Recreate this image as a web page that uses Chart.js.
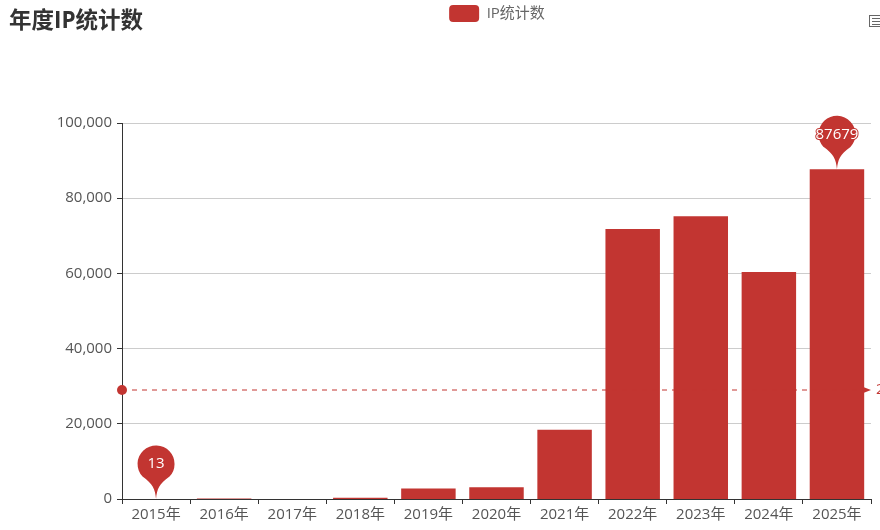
<!DOCTYPE html>
<html>
<head>
<meta charset="utf-8">
<style>
  html, body { margin: 0; padding: 0; background: #fff; overflow: hidden; }
  #wrap { width: 880px; height: 530px; }
</style>
<script src="https://cdn.jsdelivr.net/npm/chart.js@4"></script>
</head>
<body>
<div id="wrap"><canvas id="chart" width="880" height="530"></canvas></div>
<script>
const categories = ["2015年", "2016年", "2017年", "2018年", "2019年", "2020年", "2021年", "2022年", "2023年", "2024年", "2025年"];
const ipCounts = [13, 150, 20, 300, 2800, 3100, 18400, 71800, 75200, 60400, 87679];
const meanValue = 29074;
const minIndex = 0;
const maxIndex = 10;

const RED = "#c23531";
const FONT = '"Open Sans", "Noto Sans CJK SC", sans-serif';

function drawPin(ctx, x, tipY, label) {
  const r = 18.5;
  const cy = tipY - 35;
  ctx.save();
  ctx.fillStyle = RED;
  ctx.beginPath();
  ctx.moveTo(x, tipY);
  ctx.bezierCurveTo(x - 1, tipY - 10, x - 3, tipY - 15, x - r * 0.75, cy + r * 0.66);
  ctx.arc(x, cy, r, Math.PI * 0.76, Math.PI * 0.24);
  ctx.bezierCurveTo(x + 3, tipY - 15, x + 1, tipY - 10, x, tipY);
  ctx.closePath();
  ctx.fill();
  ctx.font = "15px " + FONT;
  ctx.textAlign = "center";
  ctx.textBaseline = "middle";
  ctx.lineWidth = 2;
  ctx.strokeStyle = RED;
  ctx.strokeText(label, x, cy);
  ctx.fillStyle = "#fff";
  ctx.fillText(label, x, cy);
  ctx.restore();
}

const markPlugin = {
  id: "marks",
  afterLayout(chart) {
    // legend sits to the right of centre and level with the title
    const lg = chart.legend;
    const h = lg.bottom - lg.top;
    lg.left += 57;
    lg.right += 57;
    lg.top = 2;
    lg.bottom = h + 2;
  },
  afterDatasetsDraw(chart) {
    const { ctx, scales, chartArea } = chart;
    const yMean = Math.round(scales.y.getPixelForValue(meanValue));
    ctx.save();
    // mean line
    ctx.strokeStyle = RED;
    ctx.lineWidth = 1;
    ctx.setLineDash([5, 5]);
    ctx.beginPath();
    ctx.moveTo(chartArea.left + 10, yMean);
    ctx.lineTo(chartArea.right - 8, yMean);
    ctx.stroke();
    ctx.setLineDash([]);
    ctx.fillStyle = RED;
    ctx.beginPath();
    ctx.arc(chartArea.left, yMean, 5, 0, Math.PI * 2);
    ctx.fill();
    ctx.beginPath();
    ctx.moveTo(chartArea.right, yMean);
    ctx.lineTo(chartArea.right - 9, yMean - 3.5);
    ctx.lineTo(chartArea.right - 7, yMean);
    ctx.lineTo(chartArea.right - 9, yMean + 3.5);
    ctx.closePath();
    ctx.fill();
    ctx.font = "15px " + FONT;
    ctx.textAlign = "left";
    ctx.textBaseline = "middle";
    ctx.fillText(String(meanValue), chartArea.right + 5, yMean);
    ctx.restore();

    // min / max pins
    [minIndex, maxIndex].forEach((i) => {
      drawPin(ctx, scales.x.getPixelForValue(i), scales.y.getPixelForValue(ipCounts[i]), String(ipCounts[i]));
    });

    // toolbox icon, cut by the right edge
    ctx.save();
    ctx.strokeStyle = "#666";
    ctx.lineWidth = 1;
    ctx.strokeRect(869.5, 15.5, 14, 11);
    ctx.beginPath();
    ctx.moveTo(872, 18.5); ctx.lineTo(880, 18.5);
    ctx.moveTo(872, 21.5); ctx.lineTo(880, 21.5);
    ctx.moveTo(872, 24.5); ctx.lineTo(880, 24.5);
    ctx.stroke();
    ctx.restore();
  },
};

new Chart(document.getElementById("chart"), {
  type: "bar",
  data: {
    labels: categories,
    datasets: [
      {
        label: "IP统计数",
        data: ipCounts,
        backgroundColor: RED,
        barPercentage: 0.8,
        categoryPercentage: 1,
        inflateAmount: 0,
      },
    ],
  },
  options: {
    responsive: false,
    animation: false,
    layout: { padding: { left: 9, right: 9, top: 0, bottom: 0 } },
    plugins: {
      tooltip: { enabled: false },
      title: {
        display: true,
        text: "年度IP统计数",
        align: "start",
        color: "#333",
        font: { family: FONT, size: 22.5, weight: "bold" },
        padding: { top: 8, bottom: 58 },
      },
      legend: {
        position: "top",
        labels: {
          boxWidth: 30,
          boxHeight: 17,
          useBorderRadius: true,
          borderRadius: 4,
          padding: 3,
          color: "#666",
          font: { family: FONT, size: 15 },
        },
      },
    },
    scales: {
      x: {
        afterFit: (s) => { s.height = 31; },
        border: { color: "#333" },
        grid: { drawOnChartArea: false, drawTicks: true, tickLength: 5, tickColor: "#333" },
        ticks: { color: "#555", font: { family: FONT, size: 15 }, padding: 2, maxRotation: 0, autoSkip: false },
      },
      y: {
        min: 0,
        max: 100000,
        afterFit: (s) => { s.width = 113; },
        border: { color: "#333" },
        grid: {
          color: "#ccc",
          tickColor: "#333",
          tickWidth: 1,
          tickLength: 5,
          // near-zero width at 0 so bars start on the axis, not half a pixel above it
          lineWidth: (c) => (c.tick && c.tick.value === 0 ? 0.001 : 1),
        },
        ticks: {
          stepSize: 20000,
          color: "#555",
          padding: 5,
          font: { family: FONT, size: 15 },
          callback: (v) => v.toLocaleString("en-US"),
        },
      },
    },
  },
  plugins: [markPlugin],
});
</script>
</body>
</html>
